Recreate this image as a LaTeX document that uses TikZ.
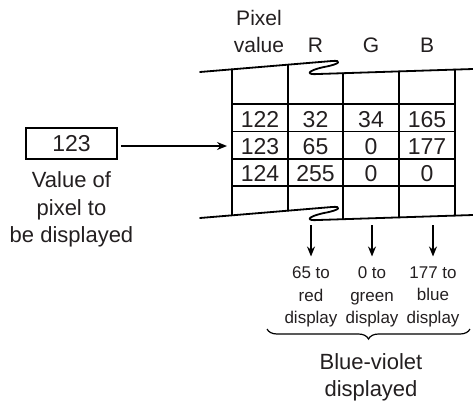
\documentclass[tikz,border=0pt]{standalone}
\usepackage{fontspec}
\setmainfont{Liberation Sans}
\usetikzlibrary{arrows.meta,decorations.pathreplacing}
\definecolor{ink}{HTML}{231F20}
\tikzset{
  tab/.style={line width=1.8pt,line cap=round,line join=round},
  arr/.style={line width=1.6pt,-{Stealth[length=10pt,width=8pt]}},
  hdr/.style={anchor=base,inner sep=0pt,text=ink,font=\fontsize{21}{25}\selectfont},
  num/.style={anchor=base,inner sep=0pt,text=ink,font=\fontsize{23}{27}\selectfont},
  big/.style={anchor=north,inner sep=0pt,align=center,text=ink,font=\fontsize{22}{27.5}\selectfont},
  small/.style={anchor=north,inner sep=0pt,align=center,text=ink,font=\fontsize{17}{22.5}\selectfont},
}
\begin{document}
\begin{tikzpicture}[x=1pt,y=-1pt]
\useasboundingbox (0,0) rectangle (473,402);
% headers
\node[hdr] (pix) at (259,25) {Pixel};
\node[hdr] (val) at (259,52) {value};
\node[hdr] (hR) at (315.5,52) {R};
\node[hdr] (hG) at (371,52) {G};
\node[hdr] (hB) at (427,52) {B};
% break lines
\draw[tab] (200,72) -- (332,61) .. controls (342,60) and (341,64) .. (324,67)
  .. controls (306,71) and (306,75) .. (318,74) -- (473,69);
\draw[tab] (200,218) -- (332,207) .. controls (342,206) and (341,210) .. (324,213)
  .. controls (306,217) and (306,221) .. (318,220) -- (473,215);
% columns
\draw[tab] (232,69.3) -- (232,215.3);
\draw[tab] (288,64.7) -- (288,210.7);
\draw[tab] (343,73.2) -- (343,219.2);
\draw[tab] (399,71.4) -- (399,217.4);
\draw[tab] (455,69.6) -- (455,215.6);
% rows
\foreach \yy in {104,131.5,159,186} \draw[tab] (232,\yy) -- (455,\yy);
% cells
\node[num] (c11) at (260,127) {122};
\node[num] (c12) at (315.5,127) {32};
\node[num] (c13) at (371,127) {34};
\node[num] (c14) at (427,127) {165};
\node[num] (c21) at (260,154) {123};
\node[num] (c22) at (315.5,154) {65};
\node[num] (c23) at (371,154) {0};
\node[num] (c24) at (427,154) {177};
\node[num] (c31) at (260,181) {124};
\node[num] (c32) at (315.5,181) {255};
\node[num] (c33) at (371,181) {0};
\node[num] (c34) at (427,181) {0};
% left box
\node[draw,line width=1.8pt,minimum width=91pt,minimum height=31pt,inner sep=0pt,
      text=ink,font=\fontsize{23}{27}\selectfont] (box) at (71.5,143.5) {123};
\coordinate (tin) at (227,146);
\draw[arr] ([xshift=3pt]box.east |- tin) -- (tin);
\node[big] (lbl) at (71.5,171.5) {Value of\\pixel to\\be displayed};
% bottom arrows and texts
\node[small] (o1) at (311,266.5) {65 to\\red\\display};
\node[small] (o2) at (372,266.5) {0 to\\green\\display};
\node[small] (o3) at (433,266.5) {177 to\\blue\\display};
\coordinate (s1) at (311,225);
\coordinate (s2) at (372,225);
\coordinate (s3) at (433,225);
\draw[arr,shorten >=10pt] (s1) -- (o1.north);
\draw[arr,shorten >=10pt] (s2) -- (o2.north);
\draw[arr,shorten >=10pt] (s3) -- (o3.north);
% brace
\coordinate (bl) at (267,329);
\coordinate (br) at (470,329);
\draw[line width=1.2pt,decorate,decoration={brace,mirror,amplitude=10pt}] (bl) -- (br);
\node[big] (res) at (371,353) {Blue-violet\\displayed};
\end{tikzpicture}
\end{document}
